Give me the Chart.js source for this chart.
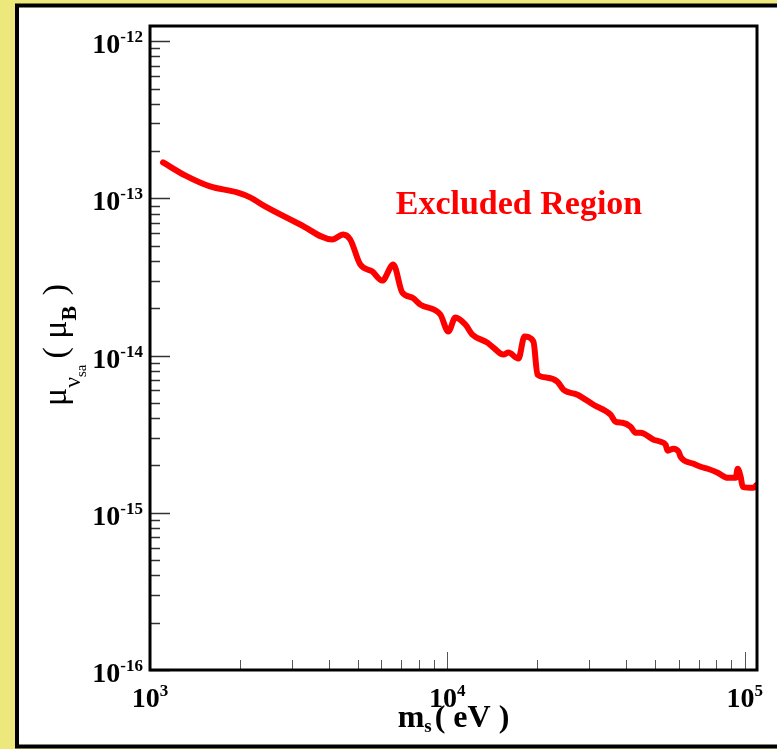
<!DOCTYPE html>
<html>
<head>
<meta charset="utf-8">
<script src="https://cdn.jsdelivr.net/npm/chart.js@4"></script>
<style>
  html, body { margin: 0; padding: 0; background: #ece87c; }
  canvas { display: block; }
</style>
</head>
<body>
<canvas id="chart" width="777" height="749"></canvas>
<script>
// --- Data ---
const massEV = [
  1106, 1312, 1592, 1963, 2171, 2439, 3200, 4100, 4465, 4714,
  5094, 5591, 6040, 6579, 7054, 7625, 8112, 9472, 10078, 10640,
  11497, 12140, 13637, 14286, 15437, 16046, 17341, 18170, 19478, 20093,
  21713, 23464, 24582, 27398, 31010, 35380, 36790, 38840, 41320, 42960,
  44650, 49390, 52150, 54200, 55050, 57660, 59960, 60880, 67340, 71110,
  75070, 81130, 87660, 93270, 94710, 96940, 98460, 107230, 109500
];
const muLimit = [
  1.695e-13, 1.401e-13, 1.192e-13, 1.092e-13, 1.015e-13, 8.89e-14, 6.83e-14, 5.48e-14, 5.90e-14, 5.48e-14,
  3.80e-14, 3.43e-14, 3.00e-14, 3.80e-14, 2.52e-14, 2.34e-14, 2.11e-14, 1.825e-14, 1.422e-14, 1.746e-14,
  1.576e-14, 1.361e-14, 1.210e-14, 1.124e-14, 1.015e-14, 1.045e-14, 9.57e-15, 1.321e-14, 1.228e-14, 7.57e-15,
  7.24e-15, 6.83e-15, 6.07e-15, 5.64e-15, 4.87e-15, 4.21e-15, 3.80e-15, 3.74e-15, 3.53e-15, 3.23e-15,
  3.23e-15, 2.92e-15, 2.83e-15, 2.71e-15, 2.48e-15, 2.56e-15, 2.445e-15, 2.27e-15, 2.05e-15, 1.963e-15,
  1.906e-15, 1.80e-15, 1.670e-15, 1.670e-15, 1.906e-15, 1.695e-15, 1.464e-15, 1.442e-15, 1.50e-15
];

const xDecades = [3, 4, 5];
const yDecades = [-16, -15, -14, -13, -12];
const minorSteps = [2, 3, 4, 5, 6, 7, 8, 9];

const xMin = 1e3, xMax = 1.1e5;
const yMin = 1e-16, yMax = 1.25e-12;

const SERIF = "'Liberation Serif', 'Times New Roman', serif";

// --- Helper: draw "10^n" style label ---
function drawPower(ctx, exp, x, y, align) {
  ctx.font = "bold 28px " + SERIF;
  const baseW = ctx.measureText("10").width;
  ctx.font = "bold 17px " + SERIF;
  const expW = ctx.measureText(String(exp)).width;
  let left = align === "right" ? x - baseW - expW : x - (baseW + expW) / 2;
  ctx.textAlign = "left";
  ctx.textBaseline = "alphabetic";
  ctx.font = "bold 28px " + SERIF;
  ctx.fillText("10", left, y);
  ctx.font = "bold 17px " + SERIF;
  ctx.fillText(String(exp), left + baseW, y - 11);
}

// --- Helper: run of text pieces with font and baseline shift ---
function drawRun(ctx, pieces, x, y) {
  let cx = x;
  pieces.forEach(p => {
    ctx.font = p.font;
    ctx.fillText(p.text, cx, y + (p.dy || 0));
    cx += ctx.measureText(p.text).width + (p.gap || 0);
  });
  return cx - x;
}
function runWidth(ctx, pieces) {
  let w = 0;
  pieces.forEach(p => { ctx.font = p.font; w += ctx.measureText(p.text).width + (p.gap || 0); });
  return w;
}

// --- Plugin: page frame behind the chart ---
const framePlugin = {
  id: "frame",
  beforeDraw(chart) {
    const ctx = chart.ctx;
    ctx.save();
    ctx.fillStyle = "#ece87c";
    ctx.fillRect(0, 0, chart.width, chart.height);
    ctx.fillStyle = "#ffffff";
    ctx.fillRect(17, 5.5, 800, 741);
    ctx.strokeStyle = "#000";
    ctx.lineWidth = 4;
    ctx.strokeRect(17, 5.5, 800, 741);
    ctx.restore();
  }
};

// --- Plugin: axes, ticks, labels, titles ---
const axesPlugin = {
  id: "axesDecor",
  afterDraw(chart) {
    const ctx = chart.ctx;
    const a = chart.chartArea;
    const xs = chart.scales.x, ys = chart.scales.y;
    ctx.save();

    // y ticks (inside, from left axis)
    ctx.strokeStyle = "#333";
    ctx.lineWidth = 1.5;
    yDecades.forEach(d => {
      const major = Math.pow(10, d);
      const py = Math.round(ys.getPixelForValue(major)) + 0.5;
      ctx.beginPath(); ctx.moveTo(a.left, py); ctx.lineTo(a.left + 20, py); ctx.stroke();
      minorSteps.forEach(s => {
        const v = s * major;
        if (v >= yMax) return;
        const pm = Math.round(ys.getPixelForValue(v)) + 0.5;
        ctx.beginPath(); ctx.moveTo(a.left, pm); ctx.lineTo(a.left + 10, pm); ctx.stroke();
      });
    });

    // x ticks (inside, from bottom axis)
    ctx.strokeStyle = "#555";
    ctx.lineWidth = 1;
    xDecades.forEach(d => {
      const major = Math.pow(10, d);
      const px = Math.round(xs.getPixelForValue(major)) + 0.5;
      ctx.beginPath(); ctx.moveTo(px, a.bottom); ctx.lineTo(px, a.bottom - 18); ctx.stroke();
      minorSteps.forEach(s => {
        const v = s * major;
        if (v >= xMax) return;
        const pm = Math.round(xs.getPixelForValue(v)) + 0.5;
        ctx.beginPath(); ctx.moveTo(pm, a.bottom); ctx.lineTo(pm, a.bottom - 10); ctx.stroke();
      });
    });

    // plot frame
    ctx.strokeStyle = "#000";
    ctx.lineWidth = 3;
    ctx.strokeRect(a.left, a.top, a.right - a.left, a.bottom - a.top);

    // tick labels
    ctx.fillStyle = "#000";
    yDecades.forEach(d => {
      const py = ys.getPixelForValue(Math.pow(10, d));
      drawPower(ctx, d, a.left - 7, py + 12, "right");
    });
    xDecades.forEach(d => {
      const px = xs.getPixelForValue(Math.pow(10, d));
      drawPower(ctx, d, px, a.bottom + 37, "center");
    });

    // x title: m_s ( eV )
    const xt = [
      { text: "m", font: "bold 32px " + SERIF },
      { text: "s", font: "bold 19px " + SERIF, dy: 5, gap: 3 },
      { text: "( eV )", font: "bold 32px " + SERIF }
    ];
    ctx.textAlign = "left";
    ctx.textBaseline = "alphabetic";
    const xw = runWidth(ctx, xt);
    drawRun(ctx, xt, (a.left + a.right) / 2 - xw / 2, 727);

    // y title: mu_{nu_sa} ( mu_B )
    const yt = [
      { text: "\u03bc", font: "34px " + SERIF },
      { text: "\u03bd", font: "24px " + SERIF, dy: 14 },
      { text: "sa", font: "15px " + SERIF, dy: 20, gap: 6 },
      { text: "( \u03bc", font: "34px " + SERIF },
      { text: "B", font: "bold 22px " + SERIF, dy: 10, gap: 2 },
      { text: " )", font: "34px " + SERIF }
    ];
    const yw = runWidth(ctx, yt);
    ctx.translate(66, 345);
    ctx.rotate(-Math.PI / 2);
    drawRun(ctx, yt, -yw / 2, 0);
    ctx.restore();

    // annotation
    ctx.save();
    ctx.fillStyle = "#ff0000";
    ctx.font = "bold 34px " + SERIF;
    ctx.textAlign = "center";
    ctx.textBaseline = "alphabetic";
    ctx.fillText("Excluded Region", 519, 214);
    ctx.restore();
  }
};

// --- Chart ---
new Chart(document.getElementById("chart"), {
  type: "line",
  data: {
    labels: massEV,
    datasets: [{
      data: muLimit,
      borderColor: "#ff0000",
      borderWidth: 6,
      pointRadius: 0,
      fill: false,
      cubicInterpolationMode: "monotone",
      borderJoinStyle: "round",
      borderCapStyle: "round"
    }]
  },
  options: {
    responsive: false,
    animation: false,
    layout: { padding: { left: 150, top: 26, right: 20, bottom: 79 } },
    plugins: { legend: { display: false }, tooltip: { enabled: false } },
    scales: {
      x: { type: "logarithmic", min: xMin, max: xMax, display: false },
      y: { type: "logarithmic", min: yMin, max: yMax, display: false }
    }
  },
  plugins: [framePlugin, axesPlugin]
});
</script>
</body>
</html>
